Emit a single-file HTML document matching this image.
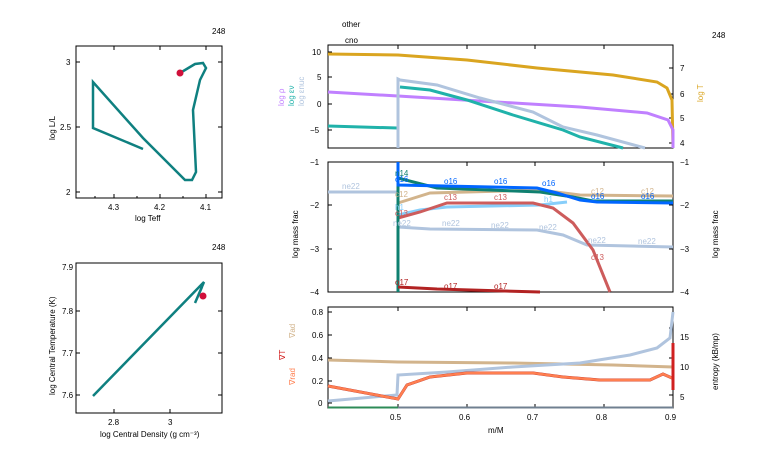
<!DOCTYPE html>
<html><head><meta charset="utf-8"><style>
body{margin:0;background:#fff}
svg{display:block;font-family:"Liberation Sans",sans-serif}
</style></head><body>
<svg width="766" height="460" viewBox="0 0 766 460" xmlns="http://www.w3.org/2000/svg">
<g font-size="8" fill="#000">
<!-- top-left HR -->
<text x="212" y="34">248</text>
<rect x="76" y="46" width="146" height="152" fill="none" stroke="#000"/>
<g stroke="#000" stroke-width="1">
<path d="M114 198v-4M160 198v-4M206 198v-4M95 198v-2M137 198v-2M183 198v-2M76 62h4M76 127h4M76 192h4M222 62h-4M222 127h-4M222 192h-4M114 46v4M160 46v4M206 46v4"/>
</g>
<text x="108" y="210">4.3</text><text x="154" y="210">4.2</text><text x="200" y="210">4.1</text>
<text x="66" y="65">3</text><text x="60" y="130">2.5</text><text x="66" y="195">2</text>
<text x="135" y="221">log Teff</text>
<text transform="translate(55,140) rotate(-90)">log L/L</text>
<polyline fill="none" stroke="#0f8080" stroke-width="2.5" points="143,149 93,128 93,82 143,138 185,180 192,180 196,172 193,110 200,80 206,68 203,63 195,64 180,73"/>
<circle cx="180" cy="73" r="3.5" fill="#d0103a"/>
<!-- bottom-left -->
<text x="212" y="250">248</text>
<rect x="76" y="263" width="146" height="150" fill="none" stroke="#000"/>
<g stroke="#000"><path d="M114 413v-4M170 413v-4M76 311h4M76 353h4M76 395h4M222 311h-4M222 353h-4M222 395h-4"/></g>
<text x="62" y="270">7.9</text><text x="62" y="314">7.8</text><text x="62" y="356">7.7</text><text x="62" y="398">7.6</text>
<text x="108" y="425">2.8</text><text x="168" y="425">3</text>
<text x="100" y="437">log Central Density (g cm⁻³)</text>
<text transform="translate(55,395) rotate(-90)">log Central Temperature (K)</text>
<polyline fill="none" stroke="#0f8080" stroke-width="2.5" points="93,396 204,282 195,303 202,287"/>
<circle cx="203" cy="296" r="3.5" fill="#d0103a"/>
<!-- right titles -->
<text x="342" y="27">other</text><text x="345" y="43">cno</text>
<text x="712" y="38">248</text>
<!-- top right panel -->
<rect x="328" y="45" width="345" height="103" fill="none" stroke="#000"/>
<g stroke="#000"><path d="M328 52h4M328 77h4M328 104h4M328 130h4M673 68h-4M673 94h-4M673 118h-4M673 143h-4M398 45v4M467 45v4M535 45v4M604 45v4"/></g>
<text x="312" y="55">10</text><text x="317" y="80">5</text><text x="317" y="107">0</text><text x="310" y="133">−5</text>
<text x="680" y="71">7</text><text x="680" y="97">6</text><text x="680" y="121">5</text><text x="680" y="146">4</text>
<text transform="translate(703,102) rotate(-90)" fill="#daa520">log T</text>
<text transform="translate(284,106) rotate(-90)" fill="#c080ff">log ρ</text>
<text transform="translate(294,106) rotate(-90)" fill="#20b2aa">log εν</text>
<text transform="translate(304,106) rotate(-90)" fill="#b0c4de">log εnuc</text>
<polyline fill="none" stroke="#daa520" stroke-width="3" points="328,54 398,55 467,60 537,68 613,75 657,82 667,88 672,100 673,148"/>
<polyline fill="none" stroke="#c080ff" stroke-width="3" points="328,92 398,96 480,101 580,107 647,113 668,120 673,130 673,148"/>
<polyline fill="none" stroke="#20b2aa" stroke-width="3" points="328,126 397,128"/>
<polyline fill="none" stroke="#20b2aa" stroke-width="3" points="400,87 430,90 467,100 513,115 563,130 580,137 623,148"/>
<polyline fill="none" stroke="#b0c4de" stroke-width="3" points="398,148 398,79 400,80 437,85 480,98 533,112 563,127 597,135 645,148"/>
<!-- middle panel -->
<rect x="328" y="162" width="345" height="130" fill="none" stroke="#000"/>
<g stroke="#000"><path d="M328 205h4M328 249h4M673 205h-4M673 249h-4M398 162v4M467 162v4M535 162v4M604 162v4"/></g>
<text x="310" y="165">−1</text><text x="310" y="208">−2</text><text x="310" y="252">−3</text><text x="310" y="295">−4</text>
<text x="680" y="165">−1</text><text x="680" y="208">−2</text><text x="680" y="252">−3</text><text x="680" y="295">−4</text>
<text transform="translate(298,258) rotate(-90)">log mass frac</text>
<text transform="translate(718,258) rotate(-90)">log mass frac</text>
<polyline fill="none" stroke="#b0c4de" stroke-width="3" points="328,192 398,192"/>
<polyline fill="none" stroke="#b0c4de" stroke-width="3" points="398,227 430,229 537,230 563,235 587,245 673,247"/>
<polyline fill="none" stroke="#d2b48c" stroke-width="3" points="398,203 430,193 540,190 580,195 673,196"/>
<polyline fill="none" stroke="#87cefa" stroke-width="3" points="398,215 420,210 447,207 540,205 567,202"/>
<polyline fill="none" stroke="#cd5c5c" stroke-width="3" points="398,218 420,212 447,203 533,203 553,208 573,223 593,250 610,292"/>
<polyline fill="none" stroke="#0f8070" stroke-width="3" points="398,292 398,178 437,188 540,192 573,197 593,201 673,201"/>
<polyline fill="none" stroke="#0066ff" stroke-width="3" points="398,162 398,185 537,188 557,193 580,200 597,202 673,203"/>
<polyline fill="none" stroke="#b22222" stroke-width="3" points="398,287 437,289 540,292"/>
<g font-size="8">
<text x="342" y="189" fill="#b0c4de">ne22</text>
<text x="395" y="176" fill="#0f8070">n14</text><text x="395" y="182" fill="#0066ff">o16</text>
<text x="395" y="197" fill="#d2b48c">c12</text><text x="395" y="210" fill="#87cefa">h1</text>
<text x="395" y="216" fill="#cd5c5c">c13</text><text x="393" y="226" fill="#b0c4de">ne22</text>
<text x="395" y="285" fill="#b22222">o17</text>
<text x="444" y="184" fill="#0066ff">o16</text><text x="444" y="200" fill="#cd5c5c">c13</text><text x="442" y="226" fill="#b0c4de">ne22</text><text x="444" y="289" fill="#b22222">o17</text>
<text x="494" y="184" fill="#0066ff">o16</text><text x="494" y="200" fill="#cd5c5c">c13</text><text x="491" y="228" fill="#b0c4de">ne22</text><text x="494" y="289" fill="#b22222">o17</text>
<text x="542" y="186" fill="#0066ff">o16</text><text x="544" y="202" fill="#87cefa">h1</text><text x="539" y="230" fill="#b0c4de">ne22</text>
<text x="591" y="194" fill="#d2b48c">c12</text><text x="591" y="199" fill="#0066ff">o16</text><text x="588" y="243" fill="#b0c4de">ne22</text><text x="591" y="260" fill="#cd5c5c">c13</text>
<text x="641" y="194" fill="#d2b48c">c12</text><text x="641" y="199" fill="#0066ff">o16</text><text x="638" y="244" fill="#b0c4de">ne22</text>
</g>
<!-- bottom panel -->
<rect x="328" y="307" width="345" height="101" fill="none" stroke="#000"/>
<g stroke="#000"><path d="M328 312h4M328 335h4M328 358h4M328 381h4M328 403h4M673 328h-4M673 358h-4M673 395h-4M398 408v-4M467 408v-4M535 408v-4M604 408v-4M398 307v4M467 307v4M535 307v4M604 307v4"/></g>
<text x="312" y="315">0.8</text><text x="312" y="338">0.6</text><text x="312" y="361">0.4</text><text x="312" y="384">0.2</text><text x="318" y="406">0</text>
<text x="680" y="340">15</text><text x="680" y="370">10</text><text x="680" y="400">5</text>
<text x="390" y="420">0.5</text><text x="459" y="420">0.6</text><text x="527" y="420">0.7</text><text x="596" y="420">0.8</text><text x="665" y="420">0.9</text>
<text x="488" y="433">m/M</text>
<text transform="translate(718,390) rotate(-90)">entropy (kB/mp)</text>
<text transform="translate(295,338) rotate(-90)" fill="#d2b48c">∇ad</text>
<text transform="translate(285,360) rotate(-90)" fill="#d01010">∇T</text>
<text transform="translate(295,385) rotate(-90)" fill="#ff7f50">∇rad</text>
<polyline fill="none" stroke="#d2b48c" stroke-width="3" points="328,360 398,362 513,363 613,365 673,367"/>
<polyline fill="none" stroke="#b0c4de" stroke-width="3" points="328,401 397,395 398,375 447,372 513,367 580,363 630,355 657,348 670,338 673,312"/>
<polyline fill="none" stroke="#b22222" stroke-width="3" points="328,386 398,399 407,385 430,377 467,373 533,373 563,377 600,380 650,380 663,374 672,378"/>
<polyline fill="none" stroke="#ff7f50" stroke-width="2.5" points="328,386 398,399 407,385 430,377 467,373 533,373 563,377 600,380 650,380 663,374 672,378"/>
<path d="M673 343V390" stroke="#d02020" stroke-width="3"/>
<path d="M328 407.5H398" stroke="#2e8b57" stroke-width="2"/>
<path d="M398 407.5H673" stroke="#708090" stroke-width="2"/>
</g>
</svg>
</body></html>
